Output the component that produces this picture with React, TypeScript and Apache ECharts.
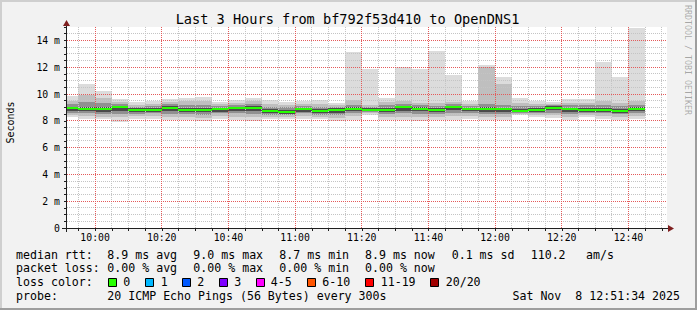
import React, { useEffect, useRef } from 'react';
import * as echarts from 'echarts';

// ---- data ----
const viewStart = '09:51:34';
const viewEnd = '12:51:34';
const slotMinutes = 5;
const slotStarts = ['09:50','09:55','10:00','10:05','10:10','10:15','10:20','10:25','10:30','10:35','10:40','10:45','10:50','10:55','11:00','11:05','11:10','11:15','11:20','11:25','11:30','11:35','11:40','11:45','11:50','11:55','12:00','12:05','12:10','12:15','12:20','12:25','12:30','12:35','12:40'];
const rttMax = [9.85, 10.75, 10.22, 9.60, 9.40, 9.48, 9.62, 9.70, 9.77, 9.40, 9.52, 9.70, 9.52, 9.40, 9.48, 9.52, 9.30, 13.12, 11.85, 9.70, 12.00, 11.88, 13.20, 11.42, 9.48, 12.14, 11.26, 9.70, 9.48, 9.40, 9.60, 9.60, 12.39, 11.26, 14.94];
const rttHi2 = [9.50, 9.90, 9.70, 9.40, 9.20, 9.25, 9.40, 9.45, 9.50, 9.22, 9.35, 9.45, 9.25, 9.20, 9.28, 9.28, 9.18, 9.55, 9.20, 9.40, 9.45, 9.35, 9.35, 9.40, 9.25, 12.02, 10.77, 9.35, 9.25, 9.28, 9.35, 9.35, 9.50, 9.30, 9.45];
const rttHi3 = [9.25, 9.40, 9.30, 9.25, 9.05, 9.10, 9.25, 9.20, 9.20, 9.10, 9.20, 9.25, 9.05, 9.00, 9.12, 9.05, 9.05, 9.20, 9.05, 9.15, 9.25, 9.18, 9.10, 9.25, 9.10, 9.25, 9.20, 9.10, 9.10, 9.18, 9.15, 9.15, 9.20, 9.10, 9.20];
const rttHi4 = [9.05, 9.05, 9.00, 9.12, 8.92, 8.95, 9.08, 8.98, 8.96, 8.98, 9.05, 9.08, 8.85, 8.80, 8.98, 8.88, 8.92, 9.00, 8.92, 8.95, 9.12, 9.00, 8.92, 9.12, 8.96, 9.00, 8.98, 8.88, 8.95, 9.08, 8.98, 8.95, 8.95, 8.88, 9.00];
const rttMedian = [8.93, 8.86, 8.86, 9.03, 8.81, 8.81, 8.96, 8.81, 8.81, 8.86, 8.96, 8.96, 8.71, 8.64, 8.86, 8.71, 8.81, 8.86, 8.81, 8.81, 9.03, 8.88, 8.79, 9.03, 8.86, 8.86, 8.86, 8.72, 8.81, 8.97, 8.86, 8.80, 8.80, 8.73, 8.88];
const rttLo4 = [8.72, 8.70, 8.65, 8.72, 8.65, 8.66, 8.70, 8.62, 8.62, 8.68, 8.72, 8.70, 8.55, 8.50, 8.68, 8.58, 8.60, 8.70, 8.70, 8.65, 8.75, 8.70, 8.65, 8.80, 8.70, 8.68, 8.68, 8.63, 8.66, 8.78, 8.65, 8.65, 8.65, 8.58, 8.70];
const rttLo3 = [8.60, 8.55, 8.50, 8.50, 8.52, 8.55, 8.50, 8.50, 8.45, 8.55, 8.55, 8.50, 8.45, 8.40, 8.55, 8.45, 8.42, 8.55, 8.62, 8.50, 8.55, 8.50, 8.50, 8.60, 8.55, 8.50, 8.50, 8.58, 8.55, 8.60, 8.50, 8.55, 8.55, 8.48, 8.55];
const rttLo2 = [8.45, 8.35, 8.30, 8.25, 8.35, 8.38, 8.30, 8.28, 8.20, 8.35, 8.30, 8.25, 8.30, 8.25, 8.35, 8.30, 8.20, 8.35, 8.55, 8.28, 8.30, 8.30, 8.30, 8.35, 8.38, 8.30, 8.30, 8.50, 8.42, 8.40, 8.30, 8.42, 8.35, 8.30, 8.35];
const rttMin = [8.29, 8.11, 8.10, 7.90, 8.17, 8.15, 8.04, 8.04, 7.99, 8.11, 8.04, 7.99, 8.11, 8.11, 8.15, 8.10, 7.99, 8.08, 8.45, 8.04, 8.04, 7.99, 8.04, 8.04, 8.17, 8.09, 8.09, 8.41, 8.29, 8.20, 8.04, 8.29, 8.17, 8.09, 8.15];

const xTickLabels = ['10:00','10:20','10:40','11:00','11:20','11:40','12:00','12:20','12:40'];
const yTickValues = [0, 2, 4, 6, 8, 10, 12, 14];
const yMinorStep = 0.5;
const yMax = 15;

const titleText = 'Last 3 Hours from bf792f53d410 to OpenDNS1';
const rttStats = ['8.9 ms avg', '9.0 ms max', '8.7 ms min', '8.9 ms now', '0.1 ms sd'];
const rttExtra = ['110.2', 'am/s'];
const lossStats = ['0.00 % avg', '0.00 % max', '0.00 % min', '0.00 % now'];
const lossLabels = ['0', '1', '2', '3', '4-5', '6-10', '11-19', '20/20'];
const lossColors = ['#26ff00', '#00b8ff', '#0059ff', '#7e00ff', '#ff00ff', '#ff5500', '#ff0000', '#a10000'];
const probeText = '20 ICMP Echo Pings (56 Bytes) every 300s';
const dateText = 'Sat Nov  8 12:51:34 2025';

// ---- helpers ----
const toMin = (s: string) => {
  const p = s.split(':').map(Number);
  return p[0] * 60 + p[1] + (p[2] || 0) / 60;
};
const fmtTime = (v: number) => {
  const h = Math.floor(v / 60);
  const m = Math.round(v - h * 60);
  return `${String(h).padStart(2, '0')}:${String(m).padStart(2, '0')}`;
};
const X_MIN = toMin(viewStart);
const X_MAX = toMin(viewEnd);
const majorX = xTickLabels.map(toMin);
const minorX: number[] = [];
for (let t = Math.ceil(X_MIN / slotMinutes) * slotMinutes; t <= X_MAX; t += slotMinutes) minorX.push(t);
const minorY: number[] = [];
for (let v = yMinorStep; v < yMax; v += yMinorStep) minorY.push(v);

const MONO = '"DejaVu Sans Mono", monospace';
const MINOR_COLOR = '#c4c4c4';
const MAJOR_COLOR = '#e45a5a';

const bandData = (lo: number[], hi: number[]) =>
  slotStarts.map((s, i) => [toMin(s), toMin(s) + slotMinutes, lo[i], hi[i]]);

const bandRender = (color: string) => (params: any, api: any) => {
  const p0 = api.coord([api.value(0), api.value(3)]);
  const p1 = api.coord([api.value(1), api.value(2)]);
  const cs = params.coordSys;
  const x0 = Math.round(p0[0]);
  const x1 = Math.round(p1[0]);
  const y0 = Math.round(p0[1]);
  const y1 = Math.round(p1[1]);
  const shape = echarts.graphic.clipRectByRect(
    { x: x0, y: y0, width: x1 - x0, height: y1 - y0 },
    { x: cs.x, y: cs.y, width: cs.width, height: cs.height }
  );
  if (!shape) return null;
  return { type: 'rect', shape, style: { fill: color } };
};

const medianRender = (params: any, api: any) => {
  const p0 = api.coord([api.value(0), api.value(2)]);
  const p1 = api.coord([api.value(1), api.value(2)]);
  const cs = params.coordSys;
  const x0 = Math.round(p0[0]);
  const x1 = Math.round(p1[0]);
  const yc = Math.round(p0[1]);
  const shape = echarts.graphic.clipRectByRect(
    { x: x0, y: yc - 1, width: x1 - x0, height: 2 },
    { x: cs.x, y: cs.y, width: cs.width, height: cs.height }
  );
  if (!shape) return null;
  return { type: 'rect', shape, style: { fill: '#26ff00' } };
};

// dotted grid line drawn as a row of 1px squares: item = [orientation (0 vertical, 1 horizontal), value]
const gridRender = (color: string) => (params: any, api: any) => {
  const cs = params.coordSys;
  const orient = api.value(0);
  const v = api.value(1);
  const children: any[] = [];
  if (orient === 0) {
    const x = Math.floor(api.coord([v, 0])[0]);
    for (let y = Math.ceil(cs.y); y < cs.y + cs.height; y += 2) {
      children.push({ type: 'rect', shape: { x, y, width: 1, height: 1 }, style: { fill: color } });
    }
  } else {
    const y = Math.floor(api.coord([X_MIN, v])[1]);
    for (let x = Math.ceil(cs.x); x < cs.x + cs.width; x += 2) {
      children.push({ type: 'rect', shape: { x, y, width: 1, height: 1 }, style: { fill: color } });
    }
  }
  return { type: 'group', silent: true, children };
};

const bandSeries = (lo: number[], hi: number[], color: string, z: number) => ({
  type: 'custom',
  xAxisIndex: 0,
  yAxisIndex: 0,
  silent: true,
  z,
  encode: { x: [0, 1], y: [2, 3] },
  renderItem: bandRender(color),
  data: bandData(lo, hi),
});

const gridSeries = (xs: number[], ys: number[], color: string, z: number) => ({
  type: 'custom',
  xAxisIndex: 0,
  yAxisIndex: 0,
  silent: true,
  z,
  encode: { x: -1, y: -1 },
  renderItem: gridRender(color),
  data: [...xs.map((v) => [0, v]), ...ys.map((v) => [1, v])],
});

export default function App() {
  const ref = useRef<HTMLDivElement>(null);
  useEffect(() => {
    if (!ref.current) return;
    const chart = echarts.init(ref.current, null, { renderer: 'svg' });

    const txt = (text: string, x: number, y: number, size: number, extra: any = {}) => ({
      type: 'text',
      x,
      y,
      z: 100,
      silent: true,
      style: {
        text,
        fontFamily: MONO,
        fontSize: size,
        fill: '#000000',
        textAlign: 'left',
        textVerticalAlign: 'middle',
        ...(extra.style || {}),
      },
      ...(extra.el || {}),
    });

    const legendX = [107.3, 193.3, 279.3, 365, 451.7];
    const boxX = [108.5, 145.5, 182.5, 219.5, 256.5, 307.5, 365.5, 430.5];
    const boxLabelX = [123.3, 160.7, 197.3, 234.3, 270.7, 322.3, 380.7, 445.7];
    const L1 = 254.5, L2 = 268.4, L3 = 282.3, L4 = 296.2;
    const LF = 11.6;

    const graphics: any[] = [
      // frame shading
      { type: 'rect', z: 100, silent: true, shape: { x: 0, y: 0, width: 697, height: 2 }, style: { fill: '#cfcfcf' } },
      { type: 'rect', z: 100, silent: true, shape: { x: 0, y: 0, width: 2, height: 310 }, style: { fill: '#cfcfcf' } },
      { type: 'rect', z: 100, silent: true, shape: { x: 0, y: 308, width: 697, height: 2 }, style: { fill: '#9e9e9e' } },
      { type: 'rect', z: 100, silent: true, shape: { x: 695, y: 0, width: 2, height: 310 }, style: { fill: '#9e9e9e' } },
      // axis lines and arrows
      { type: 'line', z: 100, silent: true, shape: { x1: 62, y1: 228.5, x2: 669, y2: 228.5 }, style: { stroke: '#1f1f1f', lineWidth: 1 } },
      { type: 'line', z: 100, silent: true, shape: { x1: 66.5, y1: 232, x2: 66.5, y2: 24 }, style: { stroke: '#1f1f1f', lineWidth: 1 } },
      { type: 'polygon', z: 101, silent: true, shape: { points: [[668, 225], [674, 228.5], [668, 232]] }, style: { fill: '#7f1f1f' } },
      { type: 'polygon', z: 101, silent: true, shape: { points: [[63, 26], [66.5, 20], [70, 26]] }, style: { fill: '#7f1f1f' } },
      // title
      txt(titleText, 347.5, 19, 13.6, { style: { textAlign: 'center' } }),
      // unit label
      txt('Seconds', 10, 122.5, 10, { style: { textAlign: 'center' }, el: { rotation: Math.PI / 2 } }),
      // watermark
      txt('RRDTOOL / TOBI OETIKER', 688, 60, 8.3, { style: { textAlign: 'center', fill: 'rgba(0,0,0,0.32)' }, el: { rotation: -Math.PI / 2 } }),
      // legend line 1
      txt('median rtt:', 16, L1, LF),
      ...rttStats.map((s, i) => txt(s, legendX[i], L1, LF)),
      txt(rttExtra[0], 530.7, L1, LF),
      txt(rttExtra[1], 586, L1, LF),
      // legend line 2
      txt('packet loss:', 16, L2, LF),
      ...lossStats.map((s, i) => txt(s, legendX[i], L2, LF)),
      // legend line 3
      txt('loss color:', 16, L3, LF),
      ...lossColors.map((c, i) => ({
        type: 'rect', z: 100, silent: true,
        shape: { x: boxX[i], y: 278.5, width: 8, height: 8 },
        style: { fill: c, stroke: '#000000', lineWidth: 1 },
      })),
      ...lossLabels.map((s, i) => txt(s, boxLabelX[i], L3, LF)),
      // legend line 4
      txt('probe:', 16, L4, LF),
      txt(probeText, 107.3, L4, LF),
      txt(dateText, 680, L4, LF, { style: { textAlign: 'right' } }),
    ];

    const minorXOnly = minorX.filter((v) => !majorX.includes(v));
    const minorYOnly = minorY.filter((v) => !yTickValues.includes(v));

    const option: any = {
      animation: false,
      backgroundColor: '#f2f2f2',
      grid: { left: 67, top: 27, width: 600, height: 201, show: true, backgroundColor: '#ffffff', borderWidth: 0 },
      xAxis: {
        type: 'value', min: X_MIN, max: X_MAX, position: 'bottom',
        axisLine: { show: false },
        axisTick: { show: true, customValues: minorX, length: 3, lineStyle: { color: '#1f1f1f' } },
        axisLabel: { show: true, customValues: majorX, formatter: (v: number) => fmtTime(v), margin: 4, fontFamily: MONO, fontSize: 9.8, color: '#000000' },
        splitLine: { show: false },
      },
      yAxis: {
        type: 'value', min: 0, max: yMax, interval: yMinorStep, position: 'left',
        axisLine: { show: false },
        axisTick: { show: true, length: 3, lineStyle: { color: '#1f1f1f' } },
        axisLabel: {
          show: true, customValues: yTickValues, margin: 7, fontFamily: MONO, fontSize: 9.8, color: '#000000',
          formatter: (v: number) => (v === 0 ? '0' : `${v} m`),
        },
        splitLine: { show: false },
      },
      series: [
        bandSeries(rttMin, rttMax, '#dcdcdc', 2),
        bandSeries(rttLo2, rttHi2, '#bfbfbf', 3),
        bandSeries(rttLo3, rttHi3, '#909090', 4),
        bandSeries(rttLo4, rttHi4, '#4a4a4a', 5),
        gridSeries(minorXOnly, minorYOnly, MINOR_COLOR, 8),
        gridSeries(majorX, yTickValues.filter((v) => v > 0), MAJOR_COLOR, 9),
        {
          type: 'custom', xAxisIndex: 0, yAxisIndex: 0, silent: true, z: 20,
          encode: { x: [0, 1], y: 2 },
          renderItem: medianRender,
          data: slotStarts.map((s, i) => [toMin(s), toMin(s) + slotMinutes, rttMedian[i]]),
        },
      ],
      graphic: graphics,
    };
    chart.setOption(option);
    return () => chart.dispose();
  }, []);

  return <div ref={ref} style={{ position: 'absolute', left: 0, top: 0, width: 697, height: 310 }} />;
}
